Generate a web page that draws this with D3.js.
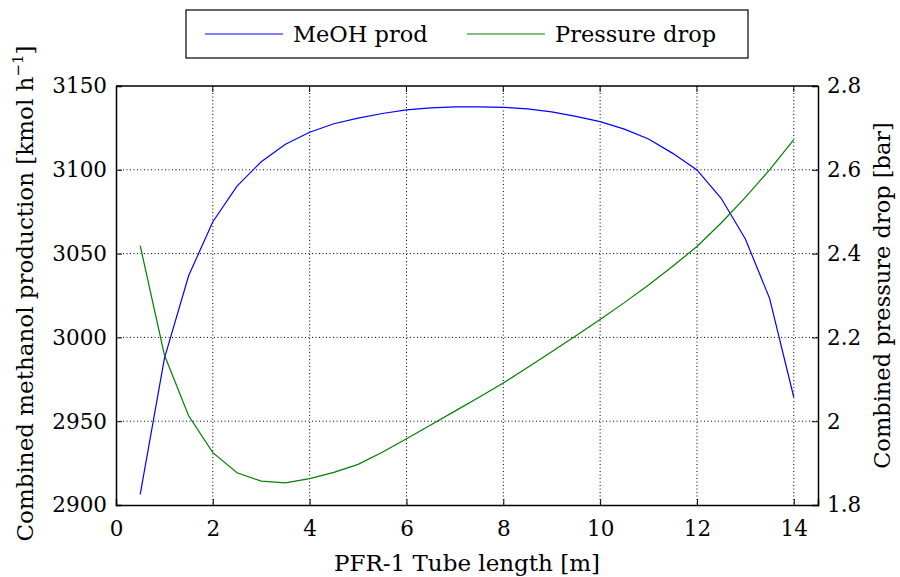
<!DOCTYPE html>
<html>
<head>
<meta charset="utf-8">
<script src="https://cdn.jsdelivr.net/npm/d3@7"></script>
<style>
  body { margin: 0; background: #fff; }
</style>
</head>
<body>
<svg id="chart" width="900" height="577" font-family="DejaVu Serif"></svg>
<script>
// tube length [m]
const tubeLength = [0.5, 1, 1.5, 2, 2.5, 3, 3.5, 4, 4.5, 5, 5.5, 6, 6.5, 7,
  7.5, 8, 8.5, 9, 9.5, 10, 10.5, 11, 11.5, 12, 12.5, 13, 13.5, 14];

// combined methanol production [kmol/h]
const meohProd = [2906.4, 2987.5, 3036.8, 3069, 3090.3, 3104.8, 3115.2, 3122.4,
  3127.5, 3130.8, 3133.6, 3135.8, 3137, 3137.5, 3137.6, 3137.3, 3136.4, 3134.6,
  3131.9, 3128.7, 3124.3, 3118.4, 3109.8, 3099.9, 3083, 3058.7, 3023.3, 2964.3];

// combined pressure drop [bar]
const pressureDrop = [2.419, 2.158, 2.013, 1.925, 1.877, 1.857, 1.853, 1.863,
  1.878, 1.897, 1.926, 1.958, 1.991, 2.024, 2.057, 2.091, 2.128, 2.166, 2.204,
  2.243, 2.283, 2.325, 2.37, 2.417, 2.473, 2.534, 2.6, 2.672];

const xTicks = [0, 2, 4, 6, 8, 10, 12, 14];
const leftTicks = [2900, 2950, 3000, 3050, 3100, 3150];
const rightTicks = [1.8, 2, 2.2, 2.4, 2.6, 2.8];

const FONT = 'DejaVu Serif';
const margin = { top: 86, right: 82, bottom: 72, left: 116 };
const width = 900 - margin.left - margin.right;
const height = 577 - margin.top - margin.bottom;

const svg = d3.select('#chart');
const g = svg.append('g').attr('transform', `translate(${margin.left},${margin.top})`);

const x = d3.scaleLinear().domain([0, 14.5]).range([0, width]);
const yL = d3.scaleLinear().domain([2900, 3150]).range([height, 0]);
const yR = d3.scaleLinear().domain([1.8, 2.8]).range([height, 0]);

// grid
g.append('g').selectAll('line').data(xTicks.filter(d => d > 0)).join('line')
  .attr('x1', d => x(d)).attr('x2', d => x(d)).attr('y1', 0).attr('y2', height)
  .attr('stroke', '#000').attr('stroke-width', 1).attr('stroke-dasharray', '1,2.5');
g.append('g').selectAll('line').data(leftTicks.filter(d => d > 2900 && d < 3150)).join('line')
  .attr('x1', 0).attr('x2', width).attr('y1', d => yL(d)).attr('y2', d => yL(d))
  .attr('stroke', '#000').attr('stroke-width', 1).attr('stroke-dasharray', '1,2.5');

// axes with inward ticks
const fmt = d => String(d);
const xAxis = g.append('g').attr('transform', `translate(0,${height})`)
  .call(d3.axisBottom(x).tickValues(xTicks).tickSize(-6).tickPadding(12).tickFormat(fmt));
const lAxis = g.append('g')
  .call(d3.axisLeft(yL).tickValues(leftTicks).tickSize(-6).tickPadding(9).tickFormat(fmt));
const rAxis = g.append('g').attr('transform', `translate(${width},0)`)
  .call(d3.axisRight(yR).tickValues(rightTicks).tickSize(-6).tickPadding(9).tickFormat(fmt));
g.append('line').attr('x1', 0).attr('x2', width).attr('y1', 0).attr('y2', 0)
  .attr('stroke', '#000').attr('stroke-width', 1.5);
g.append('g').selectAll('line').data(xTicks.filter(d => d > 0)).join('line')
  .attr('x1', d => x(d)).attr('x2', d => x(d)).attr('y1', 0).attr('y2', 6)
  .attr('stroke', '#000');

[xAxis, lAxis, rAxis].forEach(a => {
  a.attr('font-family', FONT).attr('font-size', 21.5);
  a.select('.domain').attr('stroke-width', 1.5);
});
xAxis.selectAll('text').attr('dy', '0.9em');

// lines
const lineL = d3.line().x((d, i) => x(tubeLength[i])).y(d => yL(d));
const lineR = d3.line().x((d, i) => x(tubeLength[i])).y(d => yR(d));
g.append('path').datum(meohProd).attr('d', lineL)
  .attr('fill', 'none').attr('stroke', '#0000ff').attr('stroke-width', 1.2);
g.append('path').datum(pressureDrop).attr('d', lineR)
  .attr('fill', 'none').attr('stroke', '#008000').attr('stroke-width', 1.2);

// axis labels
svg.append('text').attr('x', margin.left + width / 2).attr('y', 571)
  .attr('text-anchor', 'middle').attr('font-size', 23)
  .text('PFR-1 Tube length [m]');

const ll = svg.append('text')
  .attr('transform', `translate(33,${margin.top + height / 2 - 2}) rotate(-90)`)
  .attr('text-anchor', 'middle').attr('font-size', 23);
ll.append('tspan').text('Combined methanol production [kmol h');
ll.append('tspan').attr('dy', -10).attr('font-size', 15).text('\u22121');
ll.append('tspan').attr('dy', 10).text(']');

svg.append('text')
  .attr('transform', `translate(890,${margin.top + height / 2}) rotate(-90)`)
  .attr('text-anchor', 'middle').attr('font-size', 22.5)
  .text('Combined pressure drop [bar]');

// legend
const legend = svg.append('g');
legend.append('rect').attr('x', 186).attr('y', 10).attr('width', 562).attr('height', 48)
  .attr('fill', '#fff').attr('stroke', '#000').attr('stroke-width', 1.2);
const items = [
  { name: 'MeOH prod', color: '#0000ff', x: 205 },
  { name: 'Pressure drop', color: '#008000', x: 467 }
];
items.forEach(it => {
  legend.append('line').attr('x1', it.x).attr('x2', it.x + 78).attr('y1', 34).attr('y2', 34)
    .attr('stroke', it.color).attr('stroke-width', 1.2);
  legend.append('text').attr('x', it.x + 88).attr('y', 42).attr('font-size', 22.5).text(it.name);
});
</script>
</body>
</html>
